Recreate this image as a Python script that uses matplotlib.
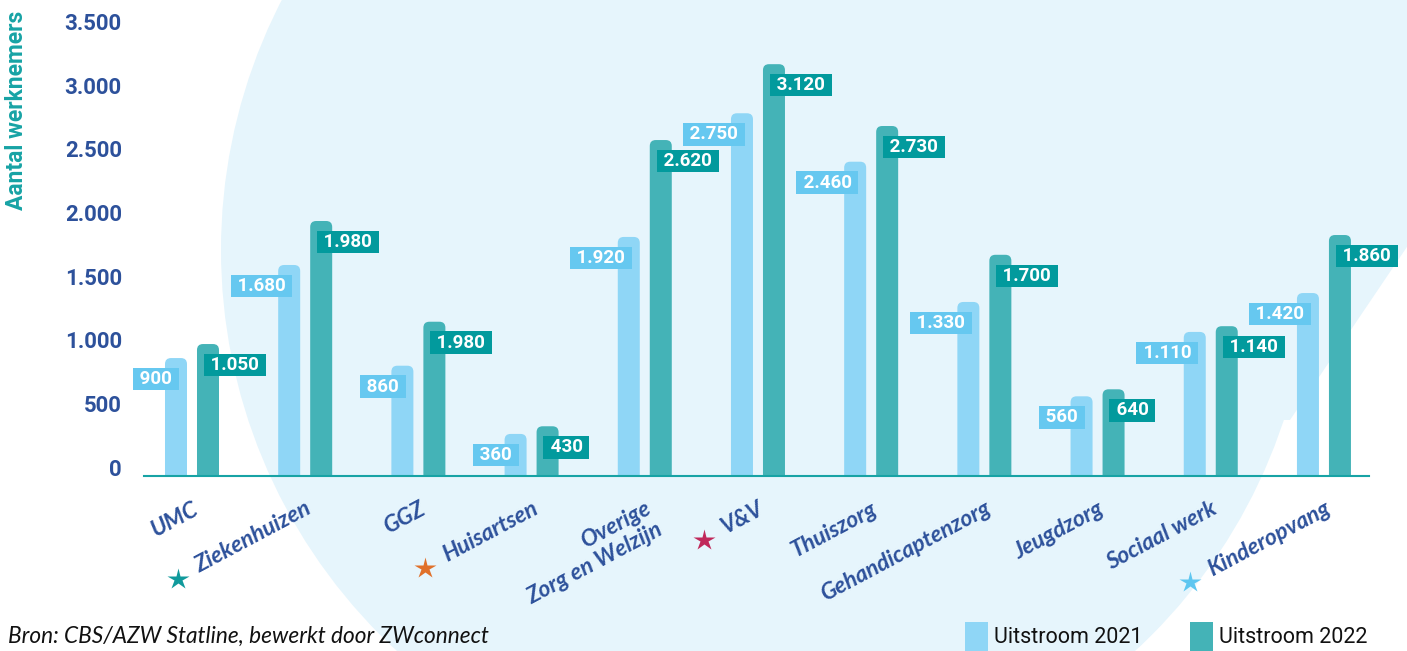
import numpy as np
import matplotlib
matplotlib.use("Agg")
import matplotlib.pyplot as plt
from matplotlib.patches import FancyBboxPatch, Ellipse, Polygon, Patch

# data
categories = ["UMC", "Ziekenhuizen", "GGZ", "Huisartsen", "Overige\nZorg en Welzijn", "V&V",
              "Thuiszorg", "Gehandicaptenzorg", "Jeugdzorg", "Sociaal werk", "Kinderopvang"]
uitstroom_2021 = [925, 1655, 865, 330, 1875, 2845, 2465, 1365, 625, 1130, 1435]
uitstroom_2022 = [1035, 2000, 1210, 390, 2635, 3230, 2745, 1735, 680, 1175, 1890]
labels_2021 = ["900", "1.680", "860", "360", "1.920", "2.750", "2.460", "1.330", "560", "1.110", "1.420"]
labels_2022 = ["1.050", "1.980", "1.980", "430", "2.620", "3.120", "2.730", "1.700", "640", "1.140", "1.860"]
star_colors = {"Ziekenhuizen": "#109a9c", "Huisartsen": "#e0702a", "V&V": "#c0285a", "Kinderopvang": "#5ec6f0"}
yticks = [0, 500, 1000, 1500, 2000, 2500, 3000, 3500]
legend_labels = ["Uitstroom 2021", "Uitstroom 2022"]

C21 = "#8fd6f6"
C22 = "#44b3b7"
LAB21 = "#66c8f0"
LAB22 = "#029a9d"
DARKBLUE = "#2d519b"
TEAL = "#17a3a5"
BG = "#e6f5fc"

W, H = 1407, 651
fig = plt.figure(figsize=(W / 100, H / 100), dpi=100)
fig.patch.set_facecolor("white")

# big pale circle in the background (pixel coords, origin top-left)
cx, cy, r = 766, 250, 545
fig.add_artist(Ellipse((cx / W, 1 - cy / H), 2 * r / W, 2 * r / H, transform=fig.transFigure,
                       fc=BG, ec="none", zorder=0))
poly = [(766, -5), (1415, -5), (1415, 235), (1290, 420), (766, 420)]
fig.add_artist(Polygon([(px / W, 1 - py / H) for px, py in poly], closed=True,
                       transform=fig.transFigure, fc=BG, ec="none", zorder=0))

ymax = 3600
ax_left, ax_right, ax_base = 144, 1369, 476
px_per_y = 0.1275
ax_h = ymax * px_per_y
ax = fig.add_axes([ax_left / W, (H - ax_base) / H, (ax_right - ax_left) / W, ax_h / H])
ax.patch.set_visible(False)

x = np.arange(len(categories))
xlim = (-0.424, 10.398)
ax.set_xlim(*xlim)
ax.set_ylim(0, ymax)
px_per_x = (ax_right - ax_left) / (xlim[1] - xlim[0])

w = 22 / px_per_x
off = 16 / px_per_x
b1 = ax.bar(x - off, uitstroom_2021, w, color=C21)
b2 = ax.bar(x + off, uitstroom_2022, w, color=C22)

# swap the plain bars for round-topped ones
rad_px = 6
rs = rad_px / px_per_x
asp = (1 / px_per_y) / (1 / px_per_x)
for rect in list(b1) + list(b2):
    rect.set_visible(False)
    x0, h = rect.get_x(), rect.get_height()
    extra = rad_px / px_per_y
    p = FancyBboxPatch((x0, -extra), rect.get_width(), h + extra,
                       boxstyle=f"round,pad=0,rounding_size={rs}", mutation_aspect=asp,
                       fc=rect.get_facecolor(), ec="none", zorder=2)
    ax.add_patch(p)

# value labels
val_kw = dict(textcoords="offset pixels", va="center", color="white", fontsize=13.5,
              fontweight="bold", family="Roboto", zorder=5)
for i in range(len(categories)):
    ax.annotate(f" {labels_2021[i]} ", xy=(x[i] - off, uitstroom_2021[i]), xytext=(1, -21),
                ha="right", bbox=dict(boxstyle="square,pad=0.12", fc=LAB21, ec="none"), **val_kw)
    ax.annotate(f" {labels_2022[i]} ", xy=(x[i] + off, uitstroom_2022[i]), xytext=(-2, -21),
                ha="left", bbox=dict(boxstyle="square,pad=0.12", fc=LAB22, ec="none"), **val_kw)

# axes styling
for s in ["top", "right", "left"]:
    ax.spines[s].set_visible(False)
ax.spines["bottom"].set_color(TEAL)
ax.spines["bottom"].set_linewidth(1.5)
ax.set_yticks(yticks)
ax.set_yticklabels([f"{v:,}".replace(",", ".") for v in yticks])
ax.tick_params(axis="y", length=0, pad=16)
for lab in ax.get_yticklabels():
    lab.set_fontfamily("Roboto")
    lab.set_fontweight("bold")
    lab.set_fontsize(16)
    lab.set_color(DARKBLUE)
    lab.set_va("baseline")
ax.set_xticks([])

# category labels, rotated
rot = 28
cat_kw = dict(fontsize=16.5, fontweight="bold", style="italic", family="Lato", color=DARKBLUE)
for i, cat in enumerate(categories):
    ax.annotate(cat, xy=(x[i], 0), xytext=(0, -22), textcoords="offset pixels",
                rotation=rot, rotation_mode="anchor", ha="right", va="top",
                multialignment="right", linespacing=1.15, annotation_clip=False, **cat_kw)

fig.text(17 / W, 1 - 110 / H, "Aantal werknemers", rotation=90, ha="center", va="center",
         color=TEAL, fontsize=16.5, fontweight="bold", family="Roboto")
fig.text(8 / W, 1 - 636 / H, "Bron: CBS/AZW Statline, bewerkt door ZWconnect", ha="left",
         va="center", fontsize=16.3, style="italic", family="Lato", color="#111111")

fig.legend(handles=[Patch(fc=C21, ec="none"), Patch(fc=C22, ec="none")], labels=legend_labels,
           loc="lower right", bbox_to_anchor=(1372 / W, -4 / H), ncol=2, frameon=False,
           prop=dict(family="Roboto", size=15.5), handlelength=1.05, handleheight=1.7,
           columnspacing=2.2, handletextpad=0.3, borderaxespad=0, borderpad=0.2,
           labelcolor="#111111")

# stars in front of some category labels
fig.canvas.draw()
rend = fig.canvas.get_renderer()
th = np.radians(rot)
for i, cat in enumerate(categories):
    if cat not in star_colors:
        continue
    tmp = ax.text(0, 0, cat, **cat_kw)
    bb = tmp.get_window_extent(rend)
    tmp.remove()
    axp, ayp = ax.transData.transform((x[i], 0))
    ayp -= 22
    d = bb.width + 22
    sx = axp - d * np.cos(th) + (bb.height * 0.55) * np.sin(th)
    sy = ayp - d * np.sin(th) - (bb.height * 0.55) * np.cos(th)
    dx, dy = ax.transData.inverted().transform((sx, sy))
    ax.plot([dx], [dy], marker="*", ms=16, color=star_colors[cat], mec="none", clip_on=False)

fig.savefig("out.png", dpi=100)
